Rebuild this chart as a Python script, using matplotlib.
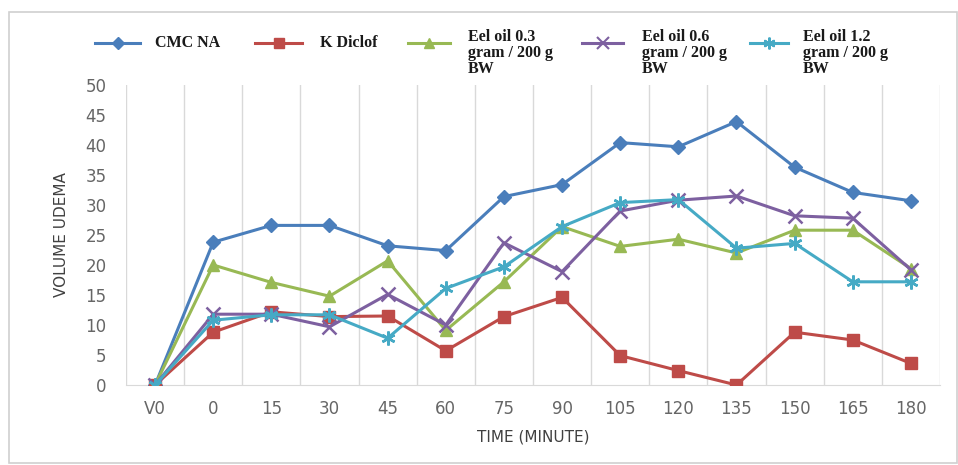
import matplotlib
matplotlib.use("Agg")
import matplotlib.pyplot as plt
from matplotlib.lines import Line2D
from matplotlib.patches import Rectangle

categories = ["V0", "0", "15", "30", "45", "60", "75", "90", "105", "120", "135", "150", "165", "180"]
cmc_na = [0, 23.8, 26.6, 26.6, 23.2, 22.4, 31.4, 33.4, 40.4, 39.7, 43.9, 36.3, 32.1, 30.7]
k_diclof = [0, 8.8, 12.2, 11.4, 11.5, 5.7, 11.4, 14.6, 4.9, 2.4, 0, 8.8, 7.5, 3.6]
eel_03 = [0, 20.0, 17.1, 14.8, 20.7, 9.1, 17.2, 26.4, 23.1, 24.3, 22.0, 25.8, 25.8, 19.4]
eel_06 = [0, 11.8, 11.8, 9.7, 15.1, 10.0, 23.7, 18.9, 29.0, 30.8, 31.5, 28.2, 27.8, 19.2]
eel_12 = [0, 10.8, 11.7, 11.7, 7.8, 16.1, 19.7, 26.4, 30.4, 30.9, 22.8, 23.6, 17.2, 17.2]
yticks = [0, 5, 10, 15, 20, 25, 30, 35, 40, 45, 50]
labels = ["CMC NA", "K Diclof", "Eel oil 0.3\ngram / 200 g\nBW",
          "Eel oil 0.6\ngram / 200 g\nBW", "Eel oil 1.2\ngram / 200 g\nBW"]
values = [cmc_na, k_diclof, eel_03, eel_06, eel_12]

colors = ["#4a7ebb", "#be4b48", "#98b954", "#7d60a0", "#46aac5"]
markers = ["D", "s", "^", "x", (6, 2, 0)]
msizes = [7, 9, 9, 10, 10]

fig = plt.figure(figsize=(9.58, 4.65), dpi=100)
W, H = 958, 465
fig.patches.append(Rectangle((9 / W, 2 / H), 948 / W, 451 / H, transform=fig.transFigure,
                             fill=False, edgecolor="#d0d0d0", linewidth=1.2))

ax = fig.add_axes([126 / W, 1 - 385 / H, (940 - 126) / W, 300 / H])
x = list(range(len(categories)))
for vals, color, marker, ms in zip(values, colors, markers, msizes):
    mew = 1.8 if marker == "x" or isinstance(marker, tuple) else 1
    ax.plot(x, vals, color=color, linewidth=2.2, marker=marker, markersize=ms,
            markeredgewidth=mew, markeredgecolor=color, markerfacecolor=color, zorder=3)

ax.set_xlim(-0.5, len(categories) - 0.5)
ax.set_ylim(0, 50)
for b in range(len(categories) + 1):
    ax.axvline(b - 0.5, color="#d9d9d9", linewidth=1, zorder=1)
for s in ["top", "right", "left"]:
    ax.spines[s].set_visible(False)
ax.spines["bottom"].set_color("#d9d9d9")
ax.set_xticks(x)
ax.set_xticklabels(categories)
ax.set_yticks(yticks)
ax.tick_params(axis="both", length=0, labelsize=12, labelcolor="#666666")
ax.tick_params(axis="x", pad=11)
ax.tick_params(axis="y", pad=14)
ax.set_xlabel("TIME (MINUTE)", fontsize=11, color="#404040", labelpad=8)
ax.set_ylabel("VOLUME UDEMA", fontsize=11, color="#404040", labelpad=12)
ax.patch.set_alpha(0)

# manual legend: line start, line end, text x (pixels)
leg_pos = [(95, 140, 155), (255, 302, 320), (408, 450, 468), (582, 623, 642), (750, 788, 803)]
ly = 43
for (x0, x1, tx), lab, c, m, ms in zip(leg_pos, labels, colors, markers, msizes):
    mew = 1.5 if m == "x" or isinstance(m, tuple) else 1
    fig.add_artist(Line2D([x0 / W, x1 / W], [1 - ly / H, 1 - ly / H], transform=fig.transFigure,
                          color=c, linewidth=2.2))
    fig.add_artist(Line2D([(x0 + x1) / 2 / W], [1 - ly / H], transform=fig.transFigure,
                          color=c, marker=m, markersize=ms * 0.85, markeredgecolor=c,
                          markerfacecolor=c, markeredgewidth=mew, linestyle="none"))
    if "\n" in lab:
        fig.text(tx / W, 1 - 29 / H, lab, ha="left", va="top", family="Liberation Serif",
                 weight="bold", fontsize=11.5, linespacing=1.02, color="#1a1a1a")
    else:
        fig.text(tx / W, 1 - ly / H, lab, ha="left", va="center", family="Liberation Serif",
                 weight="bold", fontsize=11.5, color="#1a1a1a")

fig.savefig("out.png", dpi=100)
